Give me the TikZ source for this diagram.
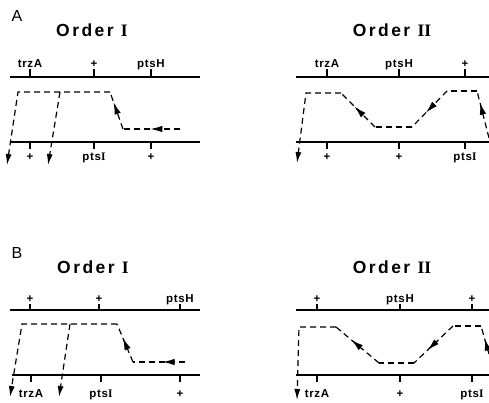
\documentclass[tikz,border=0pt]{standalone}
\usepackage{fontspec}
\setmainfont{Liberation Sans}
\newfontfamily\labfont[LetterSpace=6]{Liberation Sans}
\newfontfamily\ttlfont[LetterSpace=14]{Liberation Sans}
\newfontfamily\romfont{Liberation Serif}
\usetikzlibrary{arrows.meta,decorations.markings}

\newcommand{\rmn}[1]{{\romfont\bfseries #1}}

\begin{document}
\begin{tikzpicture}[
    x=1pt, y=-1pt,
    every node/.style = {inner sep=0pt, font=\labfont\bfseries\fontsize{11.5}{11.5}\selectfont},
    toplab/.style     = {anchor=base},
    botlab/.style     = {anchor=base},
    ttl/.style        = {font=\ttlfont\bfseries\fontsize{17.5}{17.5}\selectfont},
    panel/.style      = {font=\fontsize{16}{16}\selectfont},
    chrom/.style      = {line width=1.8pt},
    tickln/.style     = {line width=1.3pt},
    route/.style      = {dash pattern=on 6pt off 4pt, line width=1.2pt},
    tipend/.style     = {-{Latex[length=11pt,width=6pt]}},
    midarrow/.style   = {postaction={decorate}, decoration={markings,
                         mark=at position #1 with {\arrow{Latex[length=12pt,width=6.5pt]}}}},
    midarrow/.default = 0.5]

    \useasboundingbox (0,0) rectangle (489,402);

    % Panel A, order I
    \node[panel] (lblA)  at (17,16) {A};
    \node[ttl]   (ttlA1) at (92,30) {Order \rmn{I}};
    \coordinate (A1tl) at (10,77);  \coordinate (A1tr) at (200,77);
    \coordinate (A1bl) at (10,142); \coordinate (A1br) at (200,142);
    \draw[chrom] (A1tl) -- (A1tr);
    \draw[chrom] (A1bl) -- (A1br);
    \foreach \x/\t in {30/trzA, 94/+, 151/ptsH} {
      \node[toplab] (A1t\x) at (\x,67) {\t};
      \draw[tickln] (\x,69) -- (\x,77);
    }
    \foreach \x/\t in {30/+, 94/pts\rmn{I}, 151/+} {
      \node[botlab] (A1b\x) at (\x,160) {\t};
      \draw[tickln] (\x,142) -- (\x,149);
    }
    \coordinate (A1s) at (180,129); \coordinate (A1a) at (123,129);
    \coordinate (A1b) at (110,92);  \coordinate (A1c) at (18,92);
    \coordinate (A1e) at (7,165);   \coordinate (A1d) at (60,92);
    \coordinate (A1f) at (48,165);
    \draw[route, midarrow=0.52] (A1s) -- (A1a);
    \draw[route, midarrow=0.72] (A1a) -- (A1b);
    \draw[route, tipend] (A1b) -- (A1c) -- (A1e);
    \draw[route, tipend] (A1d) -- (A1f);

    % Panel A, order II
    \node[ttl] (ttlA2) at (392,30) {Order \rmn{II}};
    \coordinate (A2tl) at (296,77);  \coordinate (A2tr) at (489,77);
    \coordinate (A2bl) at (296,142); \coordinate (A2br) at (489,142);
    \draw[chrom] (A2tl) -- (A2tr);
    \draw[chrom] (A2bl) -- (A2br);
    \foreach \x/\t in {327/trzA, 399/ptsH, 465/+} {
      \node[toplab] (A2t\x) at (\x,67) {\t};
      \draw[tickln] (\x,69) -- (\x,77);
    }
    \foreach \x/\t in {327/+, 399/+, 465/pts\rmn{I}} {
      \node[botlab] (A2b\x) at (\x,160) {\t};
      \draw[tickln] (\x,142) -- (\x,149);
    }
    \coordinate (A2s) at (489,138); \coordinate (A2a) at (477,91);
    \coordinate (A2b) at (447,91);  \coordinate (A2c) at (412,127);
    \coordinate (A2d) at (375,127); \coordinate (A2e) at (341,93);
    \coordinate (A2f) at (306,93);  \coordinate (A2g) at (297,163);
    \draw[route, midarrow=0.75] (A2s) -- (A2a);
    \draw[route] (A2a) -- (A2b);
    \draw[route, midarrow=0.6] (A2b) -- (A2c);
    \draw[route] (A2c) -- (A2d);
    \draw[route, midarrow=0.6] (A2d) -- (A2e);
    \draw[route, tipend] (A2e) -- (A2f) -- (A2g);

    % Panel B, order I
    \node[panel] (lblB)  at (17,253) {B};
    \node[ttl]   (ttlB1) at (93,267) {Order \rmn{I}};
    \coordinate (B1tl) at (10,310);  \coordinate (B1tr) at (200,310);
    \coordinate (B1bl) at (12,375);  \coordinate (B1br) at (200,375);
    \draw[chrom] (B1tl) -- (B1tr);
    \draw[chrom] (B1bl) -- (B1br);
    \foreach \x/\t in {30/+, 99/+, 180/ptsH} {
      \node[toplab] (B1t\x) at (\x,302) {\t};
      \draw[tickln] (\x,304) -- (\x,310);
    }
    \foreach \x/\t in {31/trzA, 101/pts\rmn{I}, 180/+} {
      \node[botlab] (B1b\x) at (\x,397) {\t};
      \draw[tickln] (\x,375) -- (\x,382);
    }
    \coordinate (B1s) at (185,362); \coordinate (B1a) at (133,362);
    \coordinate (B1b) at (117,324); \coordinate (B1c) at (22,324);
    \coordinate (B1e) at (10,397);  \coordinate (B1d) at (70,324);
    \coordinate (B1f) at (59,397);
    \draw[route, midarrow=0.43] (B1s) -- (B1a);
    \draw[route, midarrow=0.63] (B1a) -- (B1b);
    \draw[route, tipend] (B1b) -- (B1c) -- (B1e);
    \draw[route, tipend] (B1d) -- (B1f);

    % Panel B, order II
    \node[ttl] (ttlB2) at (392,267) {Order \rmn{II}};
    \coordinate (B2tl) at (296,310); \coordinate (B2tr) at (489,310);
    \coordinate (B2bl) at (296,375); \coordinate (B2br) at (489,375);
    \draw[chrom] (B2tl) -- (B2tr);
    \draw[chrom] (B2bl) -- (B2br);
    \foreach \x/\t in {317/+, 400/ptsH, 472/+} {
      \node[toplab] (B2t\x) at (\x,302) {\t};
      \draw[tickln] (\x,304) -- (\x,310);
    }
    \foreach \x/\t in {317/trzA, 400/+, 472/pts\rmn{I}} {
      \node[botlab] (B2b\x) at (\x,397) {\t};
      \draw[tickln] (\x,375) -- (\x,382);
    }
    \coordinate (B2s) at (489,354); \coordinate (B2a) at (481,326);
    \coordinate (B2b) at (453,326); \coordinate (B2c) at (414,363);
    \coordinate (B2d) at (379,363); \coordinate (B2e) at (336,327);
    \coordinate (B2f) at (299,327); \coordinate (B2g) at (297,400);
    \draw[route, midarrow=0.55] (B2s) -- (B2a);
    \draw[route] (B2a) -- (B2b);
    \draw[route, midarrow=0.65] (B2b) -- (B2c);
    \draw[route] (B2c) -- (B2d);
    \draw[route, midarrow=0.64] (B2d) -- (B2e);
    \draw[route, tipend] (B2e) -- (B2f) -- (B2g);
  \end{tikzpicture}
\end{document}
